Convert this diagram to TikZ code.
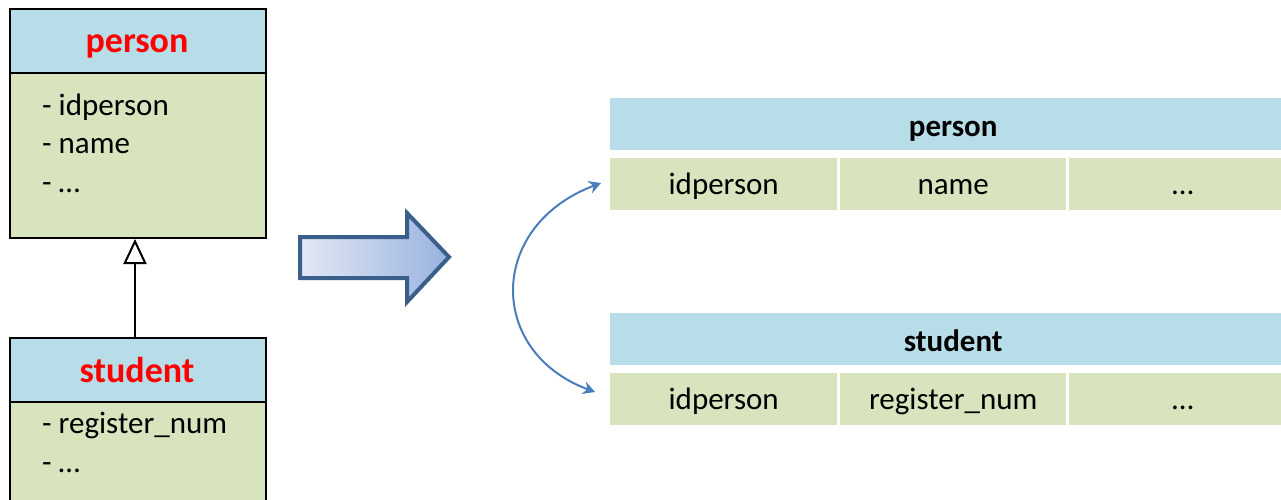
\documentclass[tikz,border=0pt]{standalone}
\usepackage{fontspec}
\setmainfont{Carlito}
\usetikzlibrary{arrows.meta}
\definecolor{hdr}{HTML}{B7DDE8}
\definecolor{bodyc}{HTML}{D7E4BD}
\definecolor{titlered}{HTML}{FF0000}
\definecolor{arrowborder}{HTML}{3A5F8B}
\definecolor{arrowlight}{HTML}{E3E8F5}
\definecolor{arrowdark}{HTML}{98B2E0}
\definecolor{curveblue}{HTML}{4A7EBB}
\tikzset{
  umlbox/.style={draw=black, line width=2pt, anchor=north west, inner sep=0pt, minimum width=256pt},
  umlhead/.style={umlbox, fill=hdr, minimum height=64pt},
  umlbody/.style={umlbox, fill=bodyc},
  umltitle/.style={anchor=base, inner sep=0pt, text=titlered, font=\fontsize{36}{43}\selectfont\bfseries},
  attr/.style={anchor=base west, inner sep=0pt, font=\fontsize{31}{37}\selectfont},
  tblhead/.style={fill=hdr, anchor=north west, inner sep=0pt, minimum height=52pt, minimum width=686pt, text height=27pt, text depth=3pt, font=\fontsize{31}{37}\selectfont\bfseries},
  cell/.style={fill=bodyc, anchor=north west, inner sep=0pt, minimum height=52pt, text height=25pt, text depth=5pt, font=\fontsize{31}{37}\selectfont},
  inherit/.style={draw=black, line width=2pt, -{Triangle[open, length=25pt, width=23pt]}},
  curvearrow/.style={draw=curveblue, line width=2pt, {Stealth[length=12pt, width=13pt, inset=4pt]}-{Stealth[length=12pt, width=13pt, inset=4pt]}},
  bigarrow/.style={draw=arrowborder, line width=4pt, line join=miter, left color=arrowlight, right color=arrowdark}
}
\begin{document}
\begin{tikzpicture}[x=1pt, y=-1pt]
\useasboundingbox (0,0) rectangle (1281,500);

% UML person
\node[umlhead] (ph) at (9,8) {};
\node[umlbody, minimum height=165pt] (pb) at (9,72) {};
\node[umltitle] (pt) at (137,53) {person};
\node[attr] (pa1) at (42,115) {- idperson};
\node[attr] (pa2) at (42,153.5) {- name};
\node[attr] (pa3) at (42,192) {- …};

% UML student
\node[umlhead] (sh) at (9,337) {};
\node[umlbody, minimum height=130pt] (sb) at (9,401) {};
\node[umltitle] (st) at (137,382) {student};
\node[attr] (sa1) at (42,433) {- register\_num};
\node[attr] (sa2) at (42,472) {- …};

% inheritance
\draw[inherit] ([xshift=-3pt]sh.north) -- ([xshift=-3pt]pb.south);

% big arrow
\path[bigarrow] (300,237) -- (407,237) -- (407,213) -- (449,257) -- (407,302) -- (407,278) -- (300,278) -- cycle;

% relational tables
\node[tblhead] (th1) at (610,98) {person};
\node[cell, minimum width=227pt] (c11) at (610,158) {idperson};
\node[cell, minimum width=226pt] (c12) at (840,158) {name};
\node[cell, minimum width=227pt] (c13) at (1069,158) {…};

\node[tblhead] (th2) at (610,313) {student};
\node[cell, minimum width=227pt] (c21) at (610,373) {idperson};
\node[cell, minimum width=226pt] (c22) at (840,373) {register\_num};
\node[cell, minimum width=227pt] (c23) at (1069,373) {…};

% curved arrow
\coordinate (ca) at (601,183);
\coordinate (cb) at (595,392);
\draw[curvearrow] (ca) .. controls (487,226) and (487,352) .. (cb);
\end{tikzpicture}
\end{document}
